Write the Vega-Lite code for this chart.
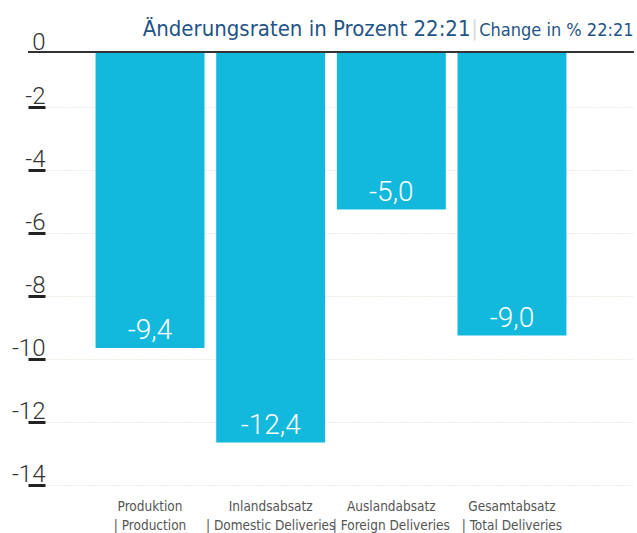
{
  "$schema": "https://vega.github.io/schema/vega-lite/v6.json",
  "width": 606,
  "height": 441,
  "autosize": {"type": "none"},
  "padding": {"left": 28, "top": 52, "right": 3, "bottom": 40},
  "config": {
    "locale": {"number": {"decimal": ",", "thousands": ".", "grouping": [3], "currency": ["", " €"], "minus": "-"}},
    "font": "Liberation Sans Narrow, DejaVu Sans Condensed, Roboto, sans-serif",
    "view": {"stroke": null}
  },
  "data": {"values": [
    {"cat": "Produktion~| Production", "value": -9.4},
    {"cat": "Inlandsabsatz~| Domestic Deliveries", "value": -12.4},
    {"cat": "Auslandabsatz~| Foreign Deliveries", "value": -5.0},
    {"cat": "Gesamtabsatz~| Total Deliveries", "value": -9.0}
  ]},
  "layer": [
    {
      "mark": {"type": "bar", "color": "#13b9dd"},
      "encoding": {
        "x": {"field": "cat", "type": "nominal", "sort": null,
          "scale": {"paddingInner": 0.097, "paddingOuter": 0.56},
          "axis": {"title": "|", "titleColor": "#dadada", "titleFontSize": 22, "titleFontWeight": "normal",
            "titleX": 446, "titleY": -466, "titleBaseline": "middle", "titleAlign": "center",
            "labelExpr": "split(datum.label, '~')", "labelAngle": 0, "labelFontSize": 13.5, "labelColor": "#555555",
            "labelLineHeight": 19, "labelPadding": 6, "labelBaseline": "top", "ticks": false, "domain": false, "grid": false}},
        "y": {"field": "value", "type": "quantitative",
          "scale": {"domain": [-14, 0], "nice": false, "zero": false},
          "axis": {"orient": "left", "values": [-2, -4, -6, -8, -10, -12, -14], "format": "d",
            "tickOffset": -8.5, "offset": -17, "grid": true, "gridColor": "#dcd6c2", "gridDash": [1, 2], "gridWidth": 1,
            "domain": false, "ticks": true, "tickSize": 17, "tickWidth": 3, "tickColor": "#222222",
            "labelPadding": -17, "labelAlign": "right", "labelBaseline": "alphabetic", "labelOffset": -3,
            "labelFont": "Roboto", "labelFontWeight": 300, "labelFontSize": 24, "labelColor": "#333333",
            "title": "Änderungsraten in Prozent 22:21", "titleAngle": 0, "titleAlign": "right", "titleBaseline": "alphabetic",
            "titleX": 425, "titleY": -17, "titleFontSize": 22, "titleFontWeight": "normal", "titleColor": "#1f5486"}}
      }
    },
    {
      "mark": {"type": "text", "color": "white", "font": "Roboto", "fontWeight": 300, "fontSize": 28, "baseline": "alphabetic", "dy": -9},
      "encoding": {
        "x": {"field": "cat", "type": "nominal", "sort": null},
        "y": {"field": "value", "type": "quantitative", "axis": null},
        "text": {"field": "value", "type": "quantitative", "format": ".1f"}
      }
    },
    {
      "mark": {"type": "rule", "color": "#333333", "strokeWidth": 2},
      "encoding": {
        "y": {"datum": 0, "type": "quantitative",
          "axis": {"orient": "left", "values": [0], "format": "d", "offset": -17, "grid": false, "domain": false,
            "ticks": true, "tickSize": 17, "tickOpacity": 0,
            "labelPadding": -17, "labelAlign": "right", "labelBaseline": "alphabetic", "labelOffset": -3,
            "labelFont": "Roboto", "labelFontWeight": 300, "labelFontSize": 24, "labelColor": "#333333",
            "title": "Change in % 22:21", "titleAngle": 0, "titleAlign": "right", "titleBaseline": "alphabetic",
            "titleX": 588, "titleY": -17, "titleFontSize": 18, "titleFontWeight": "normal", "titleColor": "#1f5486"}}
      }
    }
  ],
  "resolve": {"axis": {"y": "independent"}}
}
